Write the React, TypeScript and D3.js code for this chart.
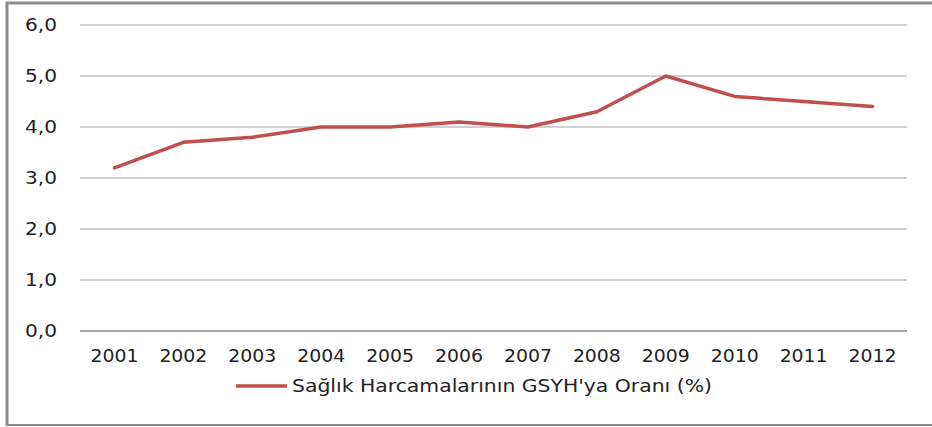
import React from 'react';
import * as d3 from 'd3';

const years = ['2001', '2002', '2003', '2004', '2005', '2006', '2007', '2008', '2009', '2010', '2011', '2012'];
const ratios = [3.2, 3.7, 3.8, 4.0, 4.0, 4.1, 4.0, 4.3, 5.0, 4.6, 4.5, 4.4];
const yTicks = [0, 1, 2, 3, 4, 5, 6];
const seriesName = "Sağlık Harcamalarının GSYH'ya Oranı (%)";

const App = () => {
  const width = 932;
  const height = 427;
  const margin = { top: 25, right: 25, bottom: 96, left: 80 };
  const font = 'DejaVu Sans, Verdana, sans-serif';

  const x = d3.scaleBand()
    .domain(years)
    .range([margin.left, width - margin.right]);

  const y = d3.scaleLinear()
    .domain([0, 6])
    .range([height - margin.bottom, margin.top]);

  const line = d3.line<number>()
    .x((_, i) => (x(years[i]) as number) + x.bandwidth() / 2)
    .y(d => y(d));

  const fmt = (v: number) => v.toFixed(1).replace('.', ',');

  return (
    <svg width={width} height={height} style={{ position: 'absolute', left: 0, top: 0, background: '#fff' }}>
      {/* frame */}
      <line x1={7} x2={7} y1={2} y2={426} stroke="#8c8c8c" strokeWidth={3} />
      <line x1={6} x2={932} y1={3} y2={3} stroke="#8c8c8c" strokeWidth={3} />
      <line x1={6} x2={932} y1={425} y2={425} stroke="#8c8c8c" strokeWidth={2} />

      {yTicks.map(t => (
        <g key={t}>
          <line
            x1={margin.left} x2={width - margin.right}
            y1={y(t)} y2={y(t)}
            stroke={t === 0 ? '#8a8a8a' : '#c0c0c0'} strokeWidth={1.5}
          />
          <text x={57} y={y(t)} dy="0.35em" textAnchor="end" fontFamily={font} fontSize={17} fill="#222"
            textLength={32} lengthAdjust="spacingAndGlyphs">
            {fmt(t)}
          </text>
        </g>
      ))}

      {years.map(yr => (
        <text key={yr} x={(x(yr) as number) + x.bandwidth() / 2} y={362} textAnchor="middle"
          fontFamily={font} fontSize={17} fill="#222" textLength={48} lengthAdjust="spacingAndGlyphs">
          {yr}
        </text>
      ))}

      <path d={line(ratios) || ''} fill="none" stroke="#c0504d" strokeWidth={3.5} strokeLinejoin="round" strokeLinecap="round" />

      {/* legend */}
      <line x1={236} x2={287} y1={386} y2={386} stroke="#c0504d" strokeWidth={3.5} />
      <text x={292} y={386} dy="0.35em" fontFamily={font} fontSize={17} fill="#222"
        textLength={420} lengthAdjust="spacingAndGlyphs">
        {seriesName}
      </text>
    </svg>
  );
};

export default App;
